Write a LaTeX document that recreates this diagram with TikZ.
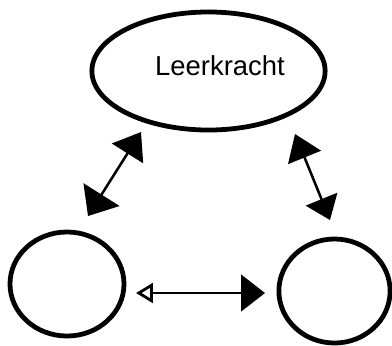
\documentclass[tikz,border=0pt]{standalone}
\usepackage{fontspec}
\setmainfont{Liberation Sans}
\usetikzlibrary{arrows.meta, shapes.geometric}
\begin{document}
\begin{tikzpicture}[
            x=0.025cm, y=-0.025cm,
            role/.style={draw=black, ellipse, line width=3.4pt, inner sep=0pt},
            link/.style={line width=1.8pt},
        ]
            \useasboundingbox (0, 0) rectangle (392, 345);
            \node[role, minimum width=5.83cm, minimum height=2.95cm] (teacher) at (208.5, 71) {};
            \node (teachername) at (220, 66) {\fontsize{19.5}{22}\selectfont Leerkracht};
            \node[role, minimum width=2.85cm, minimum height=2.6cm] (pupila) at (67, 284) {};
            \node[role, minimum width=2.78cm, minimum height=2.6cm] (pupilb) at (334.5, 291) {};
            % arrow ends
            \coordinate (leftlow) at (88, 216);
            \coordinate (lefthigh) at (141, 132);
            \coordinate (righthigh) at (295, 134);
            \coordinate (rightlow) at (330, 220);
            \coordinate (midl) at (136, 293);
            \coordinate (midr) at (265, 293);
            \path[link, {Triangle[length=18pt, width=30pt]}-{Triangle[length=18pt, width=26pt]}] (leftlow) edge (lefthigh);
            \path[link, {Triangle[length=18pt, width=25pt]}-{Triangle[length=16pt, width=24pt]}] (righthigh) edge (rightlow);
            \path[link, {Triangle[open, length=12pt, width=14pt, line width=2pt]}-{Triangle[length=17pt, width=26pt]}] (midl) edge (midr);
        \end{tikzpicture}
\end{document}
